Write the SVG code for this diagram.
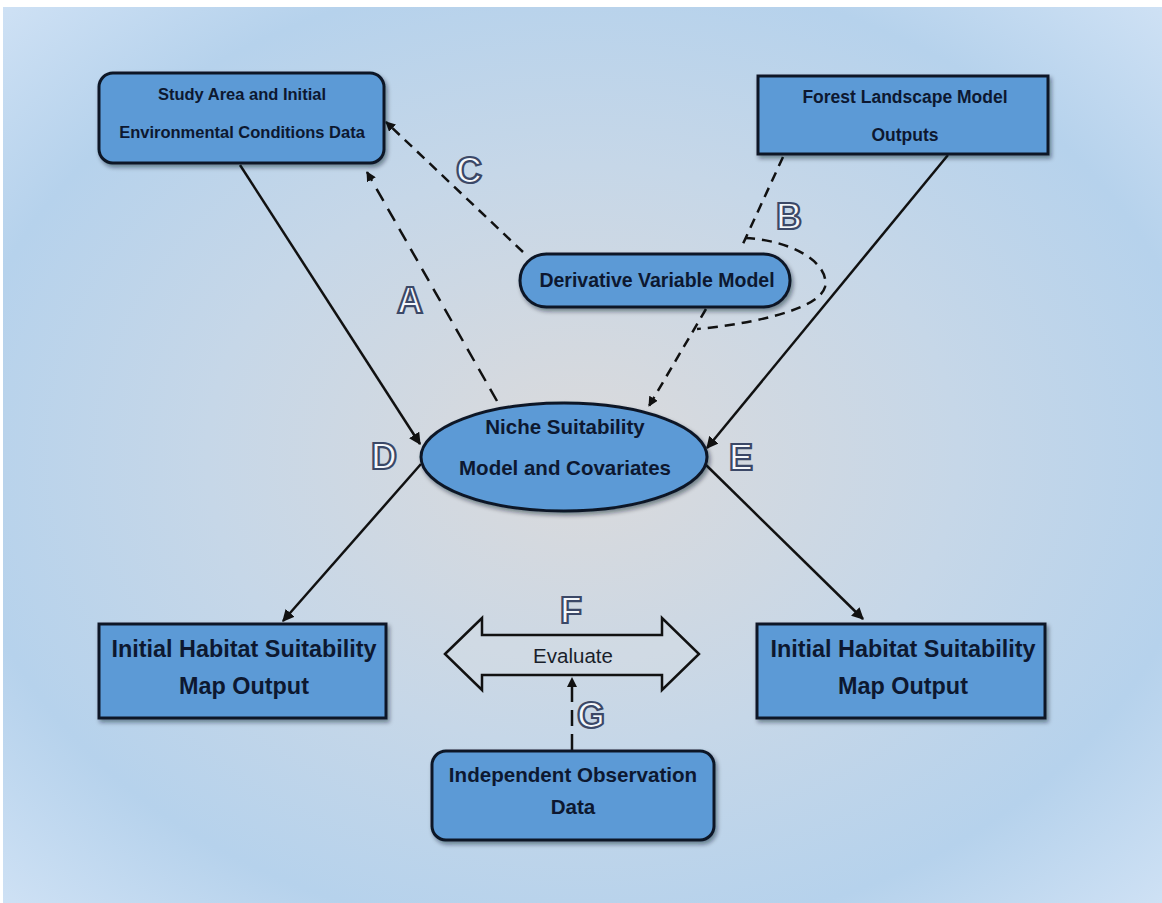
<svg xmlns="http://www.w3.org/2000/svg" width="1162" height="903" viewBox="0 0 1162 903">
<defs>
<radialGradient id="bg" cx="0.5" cy="0.5" r="0.72">
<stop offset="0" stop-color="#dbdadb"/>
<stop offset="0.45" stop-color="#c6d7e8"/>
<stop offset="0.75" stop-color="#b6d2ec"/>
<stop offset="1" stop-color="#d0e2f5"/>
</radialGradient>
<filter id="sh" x="-10%" y="-10%" width="125%" height="130%">
<feDropShadow dx="2" dy="3" stdDeviation="2" flood-color="#0a1525" flood-opacity="0.45"/>
</filter>
<marker id="ah" viewBox="0 0 10 10" refX="9" refY="5" markerWidth="10" markerHeight="10" markerUnits="userSpaceOnUse" orient="auto">
<path d="M0,0 L10,5 L0,10 Z" fill="#111"/>
</marker>
<marker id="ahs" viewBox="0 0 10 10" refX="9" refY="5" markerWidth="12" markerHeight="12" markerUnits="userSpaceOnUse" orient="auto">
<path d="M0,0 L10,5 L0,10 Z" fill="#111"/>
</marker>
</defs>
<style>
.box{fill:#5b9ad6;stroke:#0e1828;stroke-width:3;filter:url(#sh)}
.t{font-family:"Liberation Sans",Arial,sans-serif;font-weight:bold;fill:#0d1830;text-anchor:middle}
.c{fill:none;stroke:#111;stroke-width:2.5}
.lbl{font-family:"Liberation Sans",Arial,sans-serif;font-weight:bold;font-size:36px;fill:#f4f7fb;stroke:#3b4867;stroke-width:2.2;text-anchor:middle}
</style>
<rect x="0" y="0" width="1162" height="903" fill="#ffffff"/>
<rect x="3" y="7" width="1159" height="896" fill="url(#bg)"/>

<g id="connectors">
<line class="c" x1="240" y1="165" x2="420" y2="444" marker-end="url(#ahs)"/>
<line class="c" x1="948" y1="155" x2="707" y2="448" marker-end="url(#ahs)"/>
<line class="c" x1="421" y1="464" x2="283" y2="621" marker-end="url(#ahs)"/>
<line class="c" x1="705" y1="464" x2="863" y2="619" marker-end="url(#ahs)"/>
<line class="c" x1="497" y1="401" x2="367" y2="172" stroke-dasharray="14 9" marker-end="url(#ah)"/>
<line class="c" x1="523" y1="252" x2="386" y2="122" stroke-dasharray="10 7" marker-end="url(#ah)"/>
<line class="c" x1="783" y1="157" x2="742" y2="246" stroke-dasharray="10 7"/>
<path class="c" d="M745,238 C790,240 830,262 825,287 C818,312 740,325 697,329" stroke-dasharray="10 7"/>
<line class="c" x1="706" y1="309" x2="649" y2="406" stroke-dasharray="10 7" marker-end="url(#ah)"/>
<line class="c" x1="572" y1="750" x2="572" y2="678" stroke-dasharray="16 8" marker-end="url(#ah)"/>
</g>

<g id="study">
<rect class="box" x="99" y="73" width="285" height="90" rx="14"/>
<text class="t" x="242" y="100" font-size="16.5">Study Area and Initial</text>
<text class="t" x="242" y="138" font-size="16.5">Environmental Conditions Data</text>
</g>
<g id="forest">
<rect class="box" x="758" y="76" width="290" height="78"/>
<text class="t" x="905" y="103" font-size="17.5">Forest Landscape Model</text>
<text class="t" x="905" y="141" font-size="17.5">Outputs</text>
</g>
<g id="derivative">
<rect class="box" x="520" y="254" width="270" height="53" rx="26.5"/>
<text class="t" x="657" y="287" font-size="19.5">Derivative Variable Model</text>
</g>
<g id="niche">
<ellipse class="box" cx="564" cy="457" rx="143" ry="54"/>
<text class="t" x="565" y="434" font-size="20.5">Niche Suitability</text>
<text class="t" x="565" y="475" font-size="20.5">Model and Covariates</text>
</g>
<g id="habitat-left">
<rect class="box" x="99" y="624" width="287" height="94"/>
<text class="t" x="244" y="657" font-size="23.4">Initial Habitat Suitability</text>
<text class="t" x="244" y="694" font-size="23.4">Map Output</text>
</g>
<g id="habitat-right">
<rect class="box" x="757" y="624" width="288" height="94"/>
<text class="t" x="903" y="657" font-size="23.4">Initial Habitat Suitability</text>
<text class="t" x="903" y="694" font-size="23.4">Map Output</text>
</g>
<g id="observation">
<rect class="box" x="432" y="751" width="282" height="89" rx="14"/>
<text class="t" x="573" y="782" font-size="20.6">Independent Observation</text>
<text class="t" x="573" y="814" font-size="20.6">Data</text>
</g>
<g id="evaluate">
<polygon points="445,654 482,618 482,635 662,635 662,618 699,654 662,690 662,675 482,675 482,690" fill="#d3dbe4" fill-opacity="0.5" stroke="#111" stroke-width="2.5" stroke-linejoin="miter"/>
<text x="573" y="663" font-family="'Liberation Sans',Arial,sans-serif" font-size="20.5" fill="#1a1f2a" text-anchor="middle">Evaluate</text>
</g>
<g id="labels">
<text class="lbl" x="469" y="183">C</text>
<text class="lbl" x="410" y="313">A</text>
<text class="lbl" x="789" y="229">B</text>
<text class="lbl" x="384" y="469">D</text>
<text class="lbl" x="741" y="470">E</text>
<text class="lbl" x="571" y="623">F</text>
<text class="lbl" x="591" y="728">G</text>
</g>
</svg>
